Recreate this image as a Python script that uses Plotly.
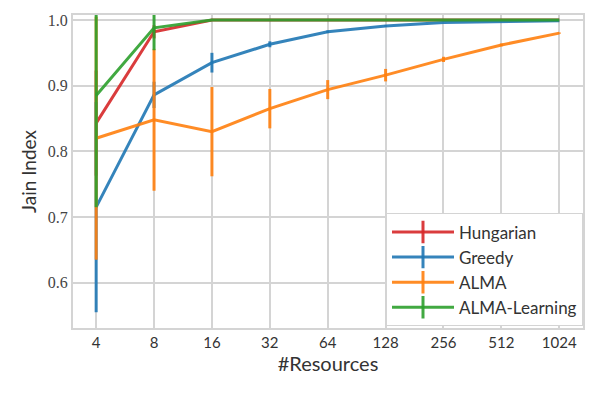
import numpy as np
import plotly.graph_objects as go

resources = [4, 8, 16, 32, 64, 128, 256, 512, 1024]
tick_labels = ["4", "8", "16", "32", "64", "128", "256", "512", "1024"]

hungarian = [0.843, 0.982, 1.0, 1.0, 1.0, 1.0, 1.0, 1.0, 1.0]
hungarian_err = [0.08, 0.01, 0.0, 0.0, 0.0, 0.0, 0.0, 0.0, 0.0]

greedy = [0.715, 0.886, 0.935, 0.963, 0.982, 0.991, 0.996, 0.998, 0.999]
greedy_err = [0.16, 0.02, 0.015, 0.0045, 0.002, 0.001, 0.0, 0.0, 0.0]

alma = [0.820, 0.848, 0.830, 0.865, 0.894, 0.916, 0.940, 0.962, 0.980]
alma_err = [0.185, 0.108, 0.068, 0.03, 0.0145, 0.0095, 0.004, 0.002, 0.001]

alma_learning = [0.885, 0.988, 1.0, 1.0, 1.0, 1.0, 1.0, 1.0, 1.0]
alma_learning_err = [0.17, 0.034, 0.0, 0.0, 0.0, 0.0, 0.0, 0.0, 0.0]

series = [
    ("Hungarian", hungarian, hungarian_err, "rgba(214,39,40,0.9)"),
    ("Greedy", greedy, greedy_err, "rgba(31,119,180,0.9)"),
    ("ALMA", alma, alma_err, "rgba(255,127,14,0.9)"),
    ("ALMA-Learning", alma_learning, alma_learning_err, "rgba(44,160,44,0.9)"),
]

fig = go.Figure()
for name, vals, errs, col in series:
    fig.add_trace(
        go.Scatter(
            x=resources,
            y=vals,
            name=name,
            mode="lines",
            line=dict(color=col, width=3),
            error_y=dict(type="data", array=errs, color=col, thickness=3, width=0),
            showlegend=False,
        )
    )

# legend-only entries so the key shows the errorbar cross like matplotlib
for name, vals, errs, col in series:
    fig.add_trace(
        go.Scatter(
            x=[None],
            y=[None],
            name=name,
            mode="lines+markers",
            line=dict(color=col, width=3),
            marker=dict(symbol="line-ns-open", size=16, line=dict(color=col, width=3)),
        )
    )

grid = "#d4d4d4"
# page body adds 8px offset, margins compensate for that
fig.update_layout(
    width=598,
    height=394,
    margin=dict(l=65, r=23, t=7, b=74),
    plot_bgcolor="white",
    paper_bgcolor="white",
    font=dict(family="Lato, sans-serif", size=15, color="#333333"),
    showlegend=True,
    legend=dict(
        x=1,
        y=0.005,
        xanchor="right",
        yanchor="bottom",
        bgcolor="white",
        bordercolor=grid,
        borderwidth=1,
        font=dict(size=17, color="#333333"),
        tracegroupgap=0,
        itemwidth=62,
    ),
)
fig.update_xaxes(
    type="log",
    range=[np.log10(2 ** 1.6), np.log10(2 ** 10.41)],
    tickvals=resources,
    ticktext=tick_labels,
    showgrid=True,
    gridcolor=grid,
    gridwidth=1.5,
    showline=True,
    linecolor=grid,
    linewidth=2,
    mirror=True,
    zeroline=False,
    ticks="",
    automargin=False,
    tickfont=dict(size=15, color="#333333"),
    title=dict(text="#Resources", font=dict(size=20, color="#333333"), standoff=6),
)
fig.update_yaxes(
    range=[0.531, 1.0076],
    tickvals=[0.6, 0.7, 0.8, 0.9, 1.0],
    ticktext=["0.6", "0.7", "0.8", "0.9", "1.0"],
    showgrid=True,
    gridcolor=grid,
    gridwidth=1.5,
    showline=True,
    linecolor=grid,
    linewidth=2,
    mirror=True,
    zeroline=False,
    ticks="",
    automargin=False,
    tickfont=dict(family="Liberation Serif", size=16, color="#444444"),
    title=dict(text="Jain Index", font=dict(size=19, color="#333333"), standoff=6),
)

fig.write_html("out.html")
